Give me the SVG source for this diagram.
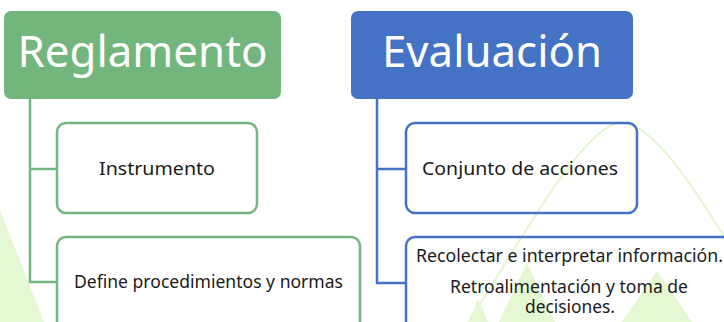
<svg xmlns="http://www.w3.org/2000/svg" width="724" height="322" viewBox="0 0 724 322">
<style>
.bg{fill:#e3f8d3;stroke:none}
.bgl{fill:none;stroke:#e2f6cf;stroke-width:2}
.hg{fill:#72b67e}
.hb{fill:#4472c4}
.ht{fill:#ffffff;font-family:"Noto Sans","Open Sans",sans-serif;font-size:44px;text-anchor:middle}
.cg{fill:none;stroke:#72b67e;stroke-width:2.5}
.cb{fill:none;stroke:#4472c4;stroke-width:2.5}
.ct{fill:#1a1a1a;font-family:"Noto Sans","Open Sans",sans-serif;font-size:18px;text-anchor:middle}
.lg{fill:none;stroke:#72b67e;stroke-width:2.5}
.lb{fill:none;stroke:#4472c4;stroke-width:2.5}
</style>
<rect width="724" height="322" fill="#ffffff"/>
<g id="background">
<polygon class="bg" points="-4,200 44,322 -4,322"/>
<polygon class="bg" points="478,299 468,322 488,322"/>
<polygon class="bg" points="527,263 499,322 555,322"/>
<polygon class="bg" points="657,271 622,322 692,322"/>
<path class="bgl" d="M455,345 C520,240 585,124 620,123 C652,122 690,180 745,270"/>
</g>
<g id="connectors">
<path class="lg" d="M30,99 V282 H58 M30,169 H58"/>
<path class="lb" d="M377,99 V283 H406 M377,169 H406"/>
</g>
<g id="reglamento">
<rect class="hg" x="4" y="11" width="277" height="88" rx="7"/>
<text class="ht" x="142.5" y="67" textLength="250" lengthAdjust="spacingAndGlyphs">Reglamento</text>
</g>
<g id="evaluacion">
<rect class="hb" x="351" y="11" width="282" height="88" rx="7"/>
<text class="ht" x="492" y="67" textLength="220" lengthAdjust="spacingAndGlyphs">Evaluación</text>
</g>
<g id="instrumento">
<rect class="cg" x="57" y="123" width="200" height="90" rx="9"/>
<text class="ct" x="157" y="175" textLength="116" lengthAdjust="spacingAndGlyphs">Instrumento</text>
</g>
<g id="define">
<rect class="cg" x="57" y="237" width="303" height="100" rx="9"/>
<text class="ct" x="208.5" y="288" textLength="269" lengthAdjust="spacingAndGlyphs">Define procedimientos y normas</text>
</g>
<g id="conjunto">
<rect class="cb" x="406" y="123" width="231" height="90" rx="9"/>
<text class="ct" x="520" y="175" textLength="196" lengthAdjust="spacingAndGlyphs">Conjunto de acciones</text>
</g>
<g id="recolectar">
<rect class="cb" x="406" y="237" width="327" height="100" rx="9"/>
<text class="ct" x="569.5" y="262" textLength="307" lengthAdjust="spacingAndGlyphs">Recolectar e interpretar información.</text>
<text class="ct" x="569" y="293" textLength="238" lengthAdjust="spacingAndGlyphs">Retroalimentación y toma de</text>
<text class="ct" x="570" y="313" textLength="90" lengthAdjust="spacingAndGlyphs">decisiones.</text>
</g>
</svg>
